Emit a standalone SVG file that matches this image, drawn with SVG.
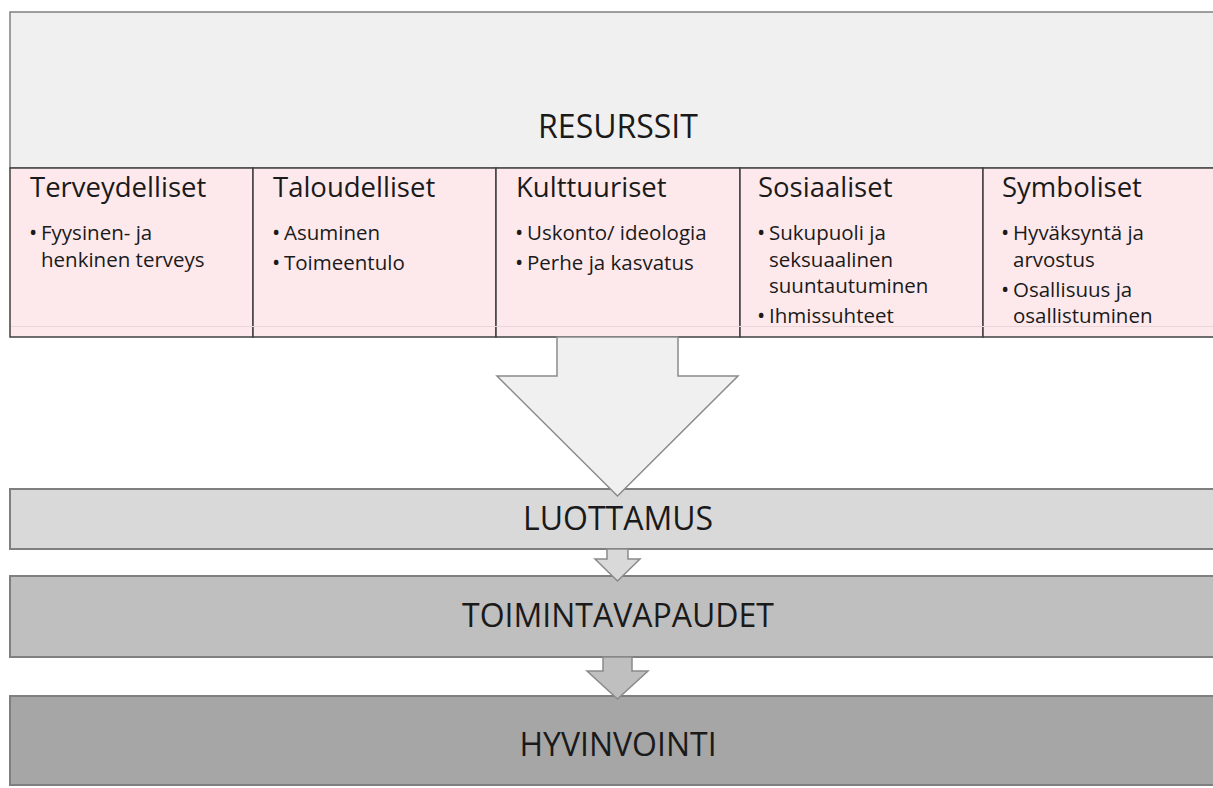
<svg xmlns="http://www.w3.org/2000/svg" width="1213" height="788" viewBox="0 0 1213 788">
<style>
text{font-family:"Open Sans","Noto Sans","Liberation Sans",sans-serif;fill:#1a1a1a}
.big{font-size:32px;text-anchor:middle}
.hd{font-size:27.5px}
.it{font-size:20.5px}
.b{font-size:22px}
.col{fill:#fde9ec;stroke:#404040;stroke-width:1.5}
.arr{stroke:#8a8a8a;stroke-width:1.5}
.bar{stroke:#7f7f7f;stroke-width:2}
</style>
<rect width="1213" height="788" fill="#ffffff"/>
<g id="resurssit">
<rect x="10" y="12" width="1300" height="156" fill="#f0f0f0" stroke="#808080" stroke-width="1.5"/>
<text class="big" x="618" y="138">RESURSSIT</text>
</g>
<g id="terveydelliset">
<rect class="col" x="10" y="168" width="243" height="169"/>
<text class="hd" x="30" y="197">Terveydelliset</text>
<text class="it" y="240"><tspan class="b" x="29">•</tspan><tspan x="41">Fyysinen- ja</tspan></text>
<text class="it" x="41" y="267">henkinen terveys</text>
</g>
<g id="taloudelliset">
<rect class="col" x="253" y="168" width="243" height="169"/>
<text class="hd" x="273" y="197">Taloudelliset</text>
<text class="it" y="240"><tspan class="b" x="272">•</tspan><tspan x="284">Asuminen</tspan></text>
<text class="it" y="269.5"><tspan class="b" x="272">•</tspan><tspan x="284">Toimeentulo</tspan></text>
</g>
<g id="kulttuuriset">
<rect class="col" x="496" y="168" width="244" height="169"/>
<text class="hd" x="516" y="197">Kulttuuriset</text>
<text class="it" y="240"><tspan class="b" x="515">•</tspan><tspan x="527">Uskonto/ ideologia</tspan></text>
<text class="it" y="269.5"><tspan class="b" x="515">•</tspan><tspan x="527">Perhe ja kasvatus</tspan></text>
</g>
<g id="sosiaaliset">
<rect class="col" x="740" y="168" width="243" height="169"/>
<text class="hd" x="758" y="197">Sosiaaliset</text>
<text class="it" y="240"><tspan class="b" x="757">•</tspan><tspan x="769">Sukupuoli ja</tspan></text>
<text class="it" x="769" y="267">seksuaalinen</text>
<text class="it" x="769" y="293">suuntautuminen</text>
<text class="it" y="323"><tspan class="b" x="757">•</tspan><tspan x="769">Ihmissuhteet</tspan></text>
</g>
<g id="symboliset">
<rect class="col" x="983" y="168" width="300" height="169"/>
<text class="hd" x="1002" y="197">Symboliset</text>
<text class="it" y="240"><tspan class="b" x="1001">•</tspan><tspan x="1013">Hyväksyntä ja</tspan></text>
<text class="it" x="1013" y="267">arvostus</text>
<text class="it" y="297"><tspan class="b" x="1001">•</tspan><tspan x="1013">Osallisuus ja</tspan></text>
<text class="it" x="1013" y="323">osallistuminen</text>
</g>
<line x1="11" y1="326.5" x2="1213" y2="326.5" stroke="#e8d6d9" stroke-width="1"/>
<g id="luottamus">
<rect class="bar" x="10" y="489" width="1300" height="60" fill="#d9d9d9"/>
<text class="big" x="618" y="530">LUOTTAMUS</text>
</g>
<g id="toimintavapaudet">
<rect class="bar" x="10" y="576" width="1300" height="81" fill="#bfbfbf"/>
<text class="big" x="618" y="627">TOIMINTAVAPAUDET</text>
</g>
<g id="hyvinvointi">
<rect class="bar" x="10" y="696" width="1300" height="89" fill="#a6a6a6"/>
<text class="big" x="618" y="756">HYVINVOINTI</text>
</g>
<g id="connectors">
<polygon class="arr" fill="#f0f0f0" points="557,337 678,337 678,376 738,376 617.5,496 497,376 557,376"/>
<polygon class="arr" fill="#d9d9d9" points="607,549 628,549 628,559 640,559 617.5,581 595,559 607,559"/>
<polygon class="arr" fill="#bfbfbf" points="603,657 632,657 632,671 648,671 617.5,699 587,671 603,671"/>
</g>
</svg>
